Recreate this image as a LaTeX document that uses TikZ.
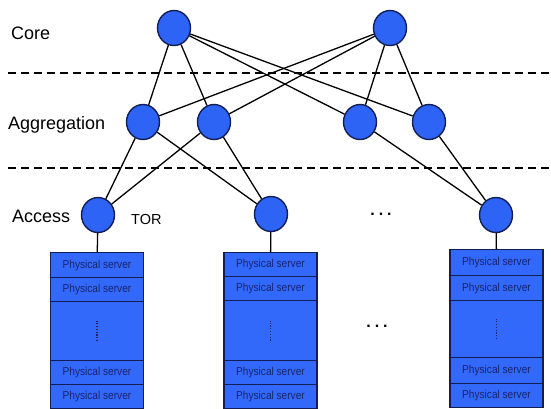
\documentclass[tikz,border=0pt]{standalone}
\usepackage{fontspec}
\setmainfont{Liberation Sans}
\newfontfamily\narrowsans[FakeStretch=0.88]{Liberation Sans}
\usetikzlibrary{shapes.geometric}
\definecolor{nodeblue}{RGB}{45,100,245}
\definecolor{rackblue}{RGB}{50,105,250}
\definecolor{navy}{RGB}{20,30,85}
\definecolor{textnavy}{RGB}{25,35,110}
\tikzset{
  sw/.style={ellipse,draw=navy,line width=1.4pt,fill=nodeblue,minimum width=33pt,minimum height=35pt,inner sep=0pt},
  link/.style={line width=1.3pt,black},
  layerline/.style={line width=1.5pt,black,dash pattern=on 8pt off 5pt},
  lbl/.style={anchor=base west,inner sep=0pt,font=\fontsize{18}{20}\selectfont},
  cell/.style={draw=navy,line width=1.3pt,fill=rackblue,minimum width=93pt,inner sep=0pt,anchor=north,text=textnavy,font=\narrowsans\fontsize{11.5}{13}\selectfont},
  vdots/.style={textnavy,line width=1.2pt,dash pattern=on 1.2pt off 1.6pt},
  ell/.style={inner sep=0pt,font=\fontsize{16}{18}\selectfont\bfseries}
}
\begin{document}
\begin{tikzpicture}[x=1pt,y=-1pt]
\useasboundingbox (0,0) rectangle (551,408);
% layer separators
\coordinate (d1a) at (8,73); \coordinate (d1b) at (551,73);
\coordinate (d2a) at (8,168); \coordinate (d2b) at (551,168);
\draw[layerline] (d1a) -- (d1b);
\draw[layerline] (d2a) -- (d2b);
% labels
\node[lbl] (lcore) at (11,39) {Core};
\node[lbl] (lagg) at (8,129) {Aggregation};
\node[lbl] (lacc) at (12,222) {Access};
\node[lbl,font=\fontsize{14.5}{16}\selectfont] (ltor) at (131,224) {TOR};
% switches
\node[sw] (C1) at (174,28) {};
\node[sw] (C2) at (390,28) {};
\node[sw] (A1) at (143,122) {};
\node[sw] (A2) at (214,122) {};
\node[sw] (A3) at (360,122) {};
\node[sw] (A4) at (429,122) {};
\node[sw] (T1) at (98,215) {};
\node[sw] (T2) at (271,214) {};
\node[sw] (T3) at (496,215) {};
% links
\foreach \c in {C1,C2}{
  \foreach \a in {A1,A2,A3,A4}{
    \draw[link] (\c) -- (\a);
  }
}
\draw[link] (A1) -- (T1);
\draw[link] (A1) -- (T2);
\draw[link] (A2) -- (T1);
\draw[link] (A2) -- (T2);
\draw[link] (A3) -- (T3);
\draw[link] (A4) -- (T3);
% racks
\foreach \r/\x/\a/\b/\c/\d/\e/\f in {1/97/252/277/301/360/384/408, 2/270.5/252/276/300/360/384/408, 3/496.5/249/275/300/357/383/407}{
  \node[cell,minimum height={\b-\a}] (r\r s1) at (\x,\a) {Physical server};
  \node[cell,minimum height={\c-\b}] (r\r s2) at (\x,\b) {Physical server};
  \node[cell,minimum height={\d-\c}] (r\r m) at (\x,\c) {};
  \node[cell,minimum height={\e-\d}] (r\r s3) at (\x,\d) {Physical server};
  \node[cell,minimum height={\f-\e}] (r\r s4) at (\x,\e) {Physical server};
  \draw[vdots] ([yshift=-10pt]r\r m.center) -- ([yshift=10pt]r\r m.center);
}
\draw[link] (T1) -- (r1s1);
\draw[link] (T2) -- (r2s1);
\draw[link] (T3) -- (r3s1);
% ellipses
\node[ell] (e1) at (381,214) {.\hspace{4pt}.\hspace{4pt}.};
\node[ell] (e2) at (377,326) {.\hspace{4pt}.\hspace{4pt}.};
\end{tikzpicture}
\end{document}
